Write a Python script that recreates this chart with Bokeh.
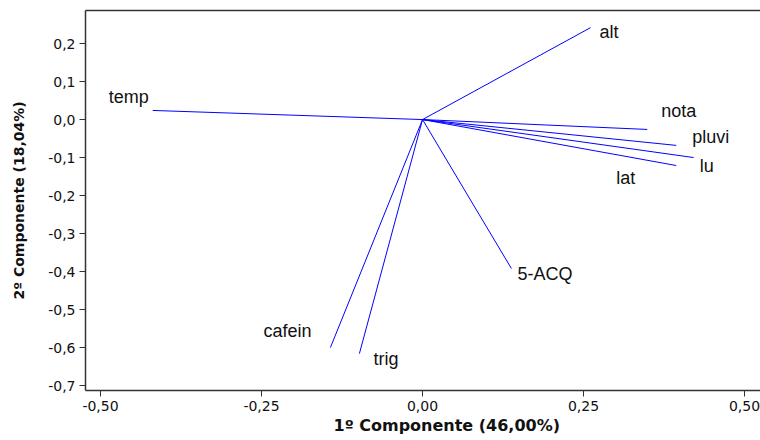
from bokeh.plotting import figure
from bokeh.models import ColumnDataSource, FixedTicker, CustomJSTickFormatter, Range1d, LinearAxis, Title
from bokeh.core.properties import value
from bokeh.embed import file_html
from bokeh.resources import INLINE

variables = ["alt", "temp", "nota", "pluvi", "lu", "lat", "5-ACQ", "cafein", "trig"]
comp1 = [0.261, -0.419, 0.349, 0.394, 0.421, 0.394, 0.138, -0.143, -0.098]
comp2 = [0.242, 0.024, -0.026, -0.068, -0.100, -0.121, -0.392, -0.600, -0.616]
x_ticks = [-0.50, -0.25, 0.00, 0.25, 0.50]
y_ticks = [-0.7, -0.6, -0.5, -0.4, -0.3, -0.2, -0.1, 0.0, 0.1, 0.2]
x_title = "1º Componente (46,00%)"
y_title = "2º Componente (18,04%)"

# label placement in screen pixels relative to the vector tip (styling only)
label_dx = [9, -44, 14, 16, 6, -60, 6, -67, 14]
label_dy = [4, -13, -18, -8, 8, 12, 5, -17, 5]

src = ColumnDataSource(dict(
    name=variables, x=comp1, y=comp2,
    x0=[0.0] * len(comp1), y0=[0.0] * len(comp2),
    dx=label_dx, dy=label_dy,
))

p = figure(width=760, height=440, output_backend="svg", toolbar_location=None,
           x_range=Range1d(-0.5233, 0.5248), y_range=Range1d(-0.713, 0.287))
p.min_border_left = 85
p.min_border_right = 0
p.min_border_top = 10
p.min_border_bottom = 50
p.background_fill_color = "white"
p.border_fill_color = "white"
p.outline_line_color = None
p.xgrid.visible = False
p.ygrid.visible = False

p.segment(x0="x0", y0="y0", x1="x", y1="y", source=src, line_color="#0000ff", line_width=1)
p.text(x="x", y="y", text="name", source=src, x_offset="dx", y_offset="dy",
       text_align="left", text_baseline="middle", text_font=value("Liberation Sans"),
       text_font_size="18px", text_color="#111111")

xa = p.below[0]
ya = p.left[0]
for ax in (xa, ya):
    ax.major_label_text_font = "DejaVu Sans"
    ax.major_label_text_font_size = "14px"
    ax.major_label_text_color = "#111111"
    ax.axis_label_text_font = "DejaVu Sans"
    ax.axis_label_text_font_style = "bold"
    ax.axis_label_text_color = "#111111"
    ax.axis_line_color = "#333333"
    ax.axis_line_width = 1.5
    ax.major_tick_line_color = "#333333"
    ax.major_tick_out = 6
    ax.major_tick_in = 0
    ax.minor_tick_line_color = None

xa.ticker = FixedTicker(ticks=x_ticks)
ya.ticker = FixedTicker(ticks=y_ticks)
xa.formatter = CustomJSTickFormatter(code="return tick.toFixed(2).replace('.', ',');")
ya.formatter = CustomJSTickFormatter(code="return tick.toFixed(1).replace('.', ',');")
ya.axis_label = y_title
ya.axis_label_text_font_size = "14px"
xa.major_label_standoff = 4
ya.major_label_standoff = 4
ya.axis_label_standoff = 18

xt = Title(text=x_title, align="left", offset=248, standoff=0,
           text_font="DejaVu Sans", text_font_style="bold", text_font_size="16px",
           text_color="#111111")
p.add_layout(xt, "below")

top_axis = LinearAxis(ticker=FixedTicker(ticks=[]), major_tick_line_color=None,
                      minor_tick_line_color=None, major_label_text_font_size="0px",
                      axis_line_color="#333333", axis_line_width=1.5,
                      major_label_standoff=0, major_tick_out=0, major_tick_in=0)
p.add_layout(top_axis, "above")

open("out.html", "w").write(file_html(p, INLINE))
